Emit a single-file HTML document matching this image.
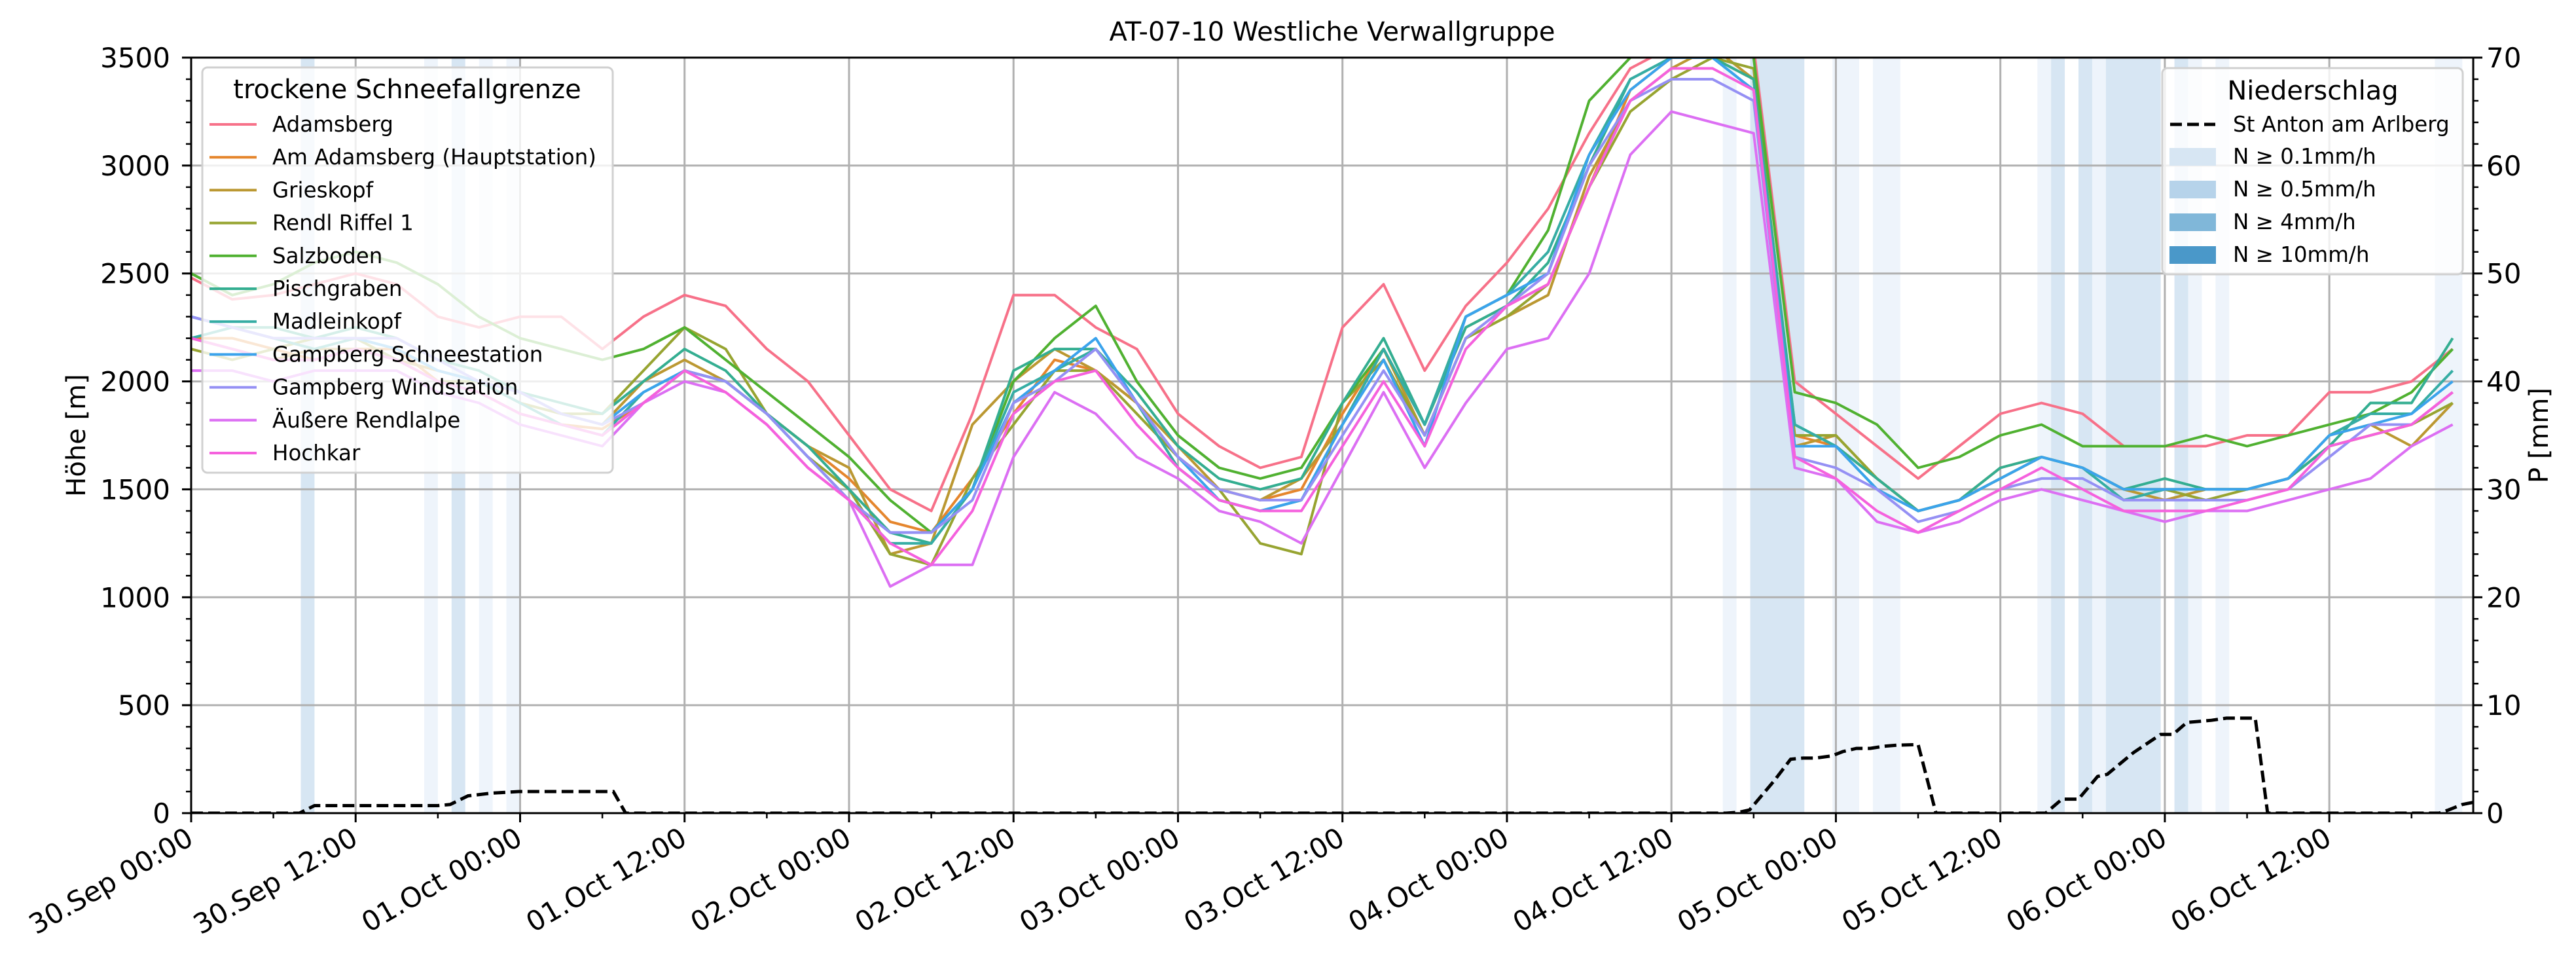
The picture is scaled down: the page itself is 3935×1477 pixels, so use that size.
<!DOCTYPE html>
<html><head><meta charset="utf-8">
<style>
html,body{margin:0;padding:0;background:#fff;}
svg{display:block;font-family:"DejaVu Sans","Liberation Sans",sans-serif;}
</style></head>
<body>
<svg id="chart" width="3935" height="1477" viewBox="0 0 3935 1477" xmlns="http://www.w3.org/2000/svg">
<defs><clipPath id="plotclip"><rect x="292" y="88" width="3486" height="1154"/></clipPath></defs>
<g id="bands" clip-path="url(#plotclip)"></g>
<g id="grid"></g>
<g id="lines" clip-path="url(#plotclip)"></g>
<g id="precip" clip-path="url(#plotclip)"></g>
<g id="axes"></g>
<text x="2035" y="62" font-size="40" text-anchor="middle">AT-07-10 Westliche Verwallgruppe</text>
<text transform="translate(130,665) rotate(-90)" font-size="40" text-anchor="middle">Höhe [m]</text>
<text transform="translate(3892,665) rotate(-90)" font-size="40" text-anchor="middle">P [mm]</text>
<g id="legend1">
<rect x="309" y="103" width="627" height="619" rx="8" fill="rgba(255,255,255,0.8)" stroke="#d0d0d0" stroke-width="3"/>
<text x="622" y="150" font-size="40" text-anchor="middle">trockene Schneefallgrenze</text>
</g>
<g id="legend2">
<rect x="3303" y="104" width="459" height="315" rx="8" fill="rgba(255,255,255,0.8)" stroke="#d0d0d0" stroke-width="3"/>
<text x="3533" y="152" font-size="40" text-anchor="middle">Niederschlag</text>
</g>
</svg>
<script>
const names = ["Adamsberg","Am Adamsberg (Hauptstation)","Grieskopf","Rendl Riffel 1","Salzboden","Pischgraben","Madleinkopf","Gampberg Schneestation","Gampberg Windstation","Äußere Rendlalpe","Hochkar"];
const colors = ["#f77189","#e5862d","#bb9832","#97a431","#50b131","#34ae91","#36ada4","#3ba3ec","#9590f4","#dc6ff3","#f561dd"];
const stepHours = 3;
const sAdamsberg = [2480,2380,2400,2450,2500,2450,2300,2250,2300,2300, 2150,2300,2400,2350,2150,2000,1750,1500,1400,1850, 2400,2400,2250,2150,1850,1700,1600,1650,2250,2450, 2050,2350,2550,2800,3150,3450,3550,3550,3550,2000, 1850,1700,1550,1700,1850,1900,1850,1700,1700,1700, 1750,1750,1950,1950,2000,2150];
const sAmAdamsberg = [2200,2200,2150,2100,2150,2150,2000,1950,1850,1800, 1780,1900,2050,2000,1850,1700,1550,1350,1300,1550, 1850,2100,2050,1900,1650,1500,1450,1500,1850,2150, 1800,2250,2350,2450,2900,3350,3500,3500,3400,1750, 1700,1550,1400,1450,1600,1650,1600,1500,1500,1500, 1500,1550,1700,1750,1800,1950];
const sGrieskopf = [2200,2150,2100,2150,2150,2100,2050,2000,1900,1850, 1800,2000,2100,2000,1850,1700,1600,1200,1250,1800, 2000,2150,2050,1900,1700,1500,1450,1550,1800,2150, 1750,2200,2300,2400,2950,3300,3450,3550,3400,1700, 1750,1550,1400,1450,1550,1650,1600,1500,1450,1500, 1500,1550,1750,1800,1700,1900];
const sRendl = [2150,2100,2150,2200,2200,2100,2000,2000,1900,1850, 1850,2050,2250,2150,1850,1650,1500,1200,1150,1550, 1800,2050,2050,1850,1650,1500,1250,1200,1900,2100, 1750,2200,2300,2450,2900,3250,3400,3500,3450,1750, 1750,1550,1400,1450,1550,1650,1600,1500,1500,1450, 1500,1550,1700,1750,1800,1900];
const sSalzboden = [2500,2400,2450,2550,2600,2550,2450,2300,2200,2150, 2100,2150,2250,2100,1950,1800,1650,1450,1300,1500, 2000,2200,2350,2000,1750,1600,1550,1600,1900,2150, 1800,2300,2400,2700,3300,3500,3550,3550,3500,1950, 1900,1800,1600,1650,1750,1800,1700,1700,1700,1750, 1700,1750,1800,1850,1950,2150];
const sPischgraben = [2300,2250,2250,2200,2250,2200,2100,2050,1950,1900, 1850,2000,2150,2050,1850,1700,1500,1300,1250,1500, 2050,2150,2150,1950,1700,1550,1500,1550,1900,2200, 1800,2250,2350,2550,3000,3400,3500,3500,3400,1800, 1700,1550,1400,1450,1600,1650,1600,1500,1550,1500, 1500,1550,1700,1900,1900,2200];
const sMadleinkopf = [2200,2250,2200,2150,2200,2150,2050,2000,1900,1800, 1750,1950,2050,2000,1850,1650,1450,1250,1250,1500, 1950,2050,2150,1900,1600,1450,1400,1450,1800,2150, 1800,2300,2400,2600,3050,3400,3500,3500,3350,1800, 1700,1500,1400,1450,1550,1650,1600,1450,1500,1500, 1500,1550,1750,1850,1850,2050];
const sSchneestation = [2300,2250,2200,2200,2200,2150,2050,2000,1950,1850, 1800,1950,2050,2000,1850,1650,1450,1300,1300,1500, 1900,2050,2200,1900,1650,1450,1400,1450,1800,2100, 1700,2300,2400,2500,3050,3350,3500,3500,3350,1700, 1700,1500,1400,1450,1550,1650,1600,1500,1500,1500, 1500,1550,1750,1800,1850,2000];
const sWindstation = [2300,2250,2200,2200,2200,2200,2100,2000,1950,1850, 1800,1900,2050,2000,1850,1650,1450,1300,1300,1450, 1900,2000,2150,1900,1650,1500,1450,1450,1750,2050, 1750,2200,2350,2500,3000,3300,3400,3400,3300,1650, 1600,1500,1350,1400,1500,1550,1550,1450,1450,1450, 1450,1500,1650,1800,1800,1950];
const sRendlalpe = [2050,2050,2000,2050,2050,2050,1950,1900,1800,1750, 1700,1900,2000,1950,1800,1600,1450,1050,1150,1150, 1650,1950,1850,1650,1550,1400,1350,1250,1600,1950, 1600,1900,2150,2200,2500,3050,3250,3200,3150,1600, 1550,1350,1300,1350,1450,1500,1450,1400,1350,1400, 1400,1450,1500,1550,1700,1800];
const sHochkar = [2200,2150,2100,2100,2150,2100,2000,1950,1850,1800, 1750,1900,2050,1950,1800,1600,1450,1250,1150,1400, 1850,2000,2050,1800,1600,1450,1400,1400,1700,2000, 1700,2150,2350,2450,2900,3300,3450,3450,3350,1650, 1550,1400,1300,1400,1500,1600,1500,1400,1400,1400, 1450,1500,1700,1750,1800,1950];
const series = [sAdamsberg,sAmAdamsberg,sGrieskopf,sRendl,sSalzboden,sPischgraben,sMadleinkopf,sSchneestation,sWindstation,sRendlalpe,sHochkar];

const precipHours = [0,7.9,9.0,18.0,18.9,20.2,21.9,23.9,30.8,31.7, 112,113,113.7,114.5,115.5,116.7,117.6,118.5,119.7,120.5,121.5,122.5,123.5,124.5,126,127.3, 135.3,136.5,137,137.7,139.1,139.8,141.7,143.7,144.6,145.6,147.4,148.5,150.6,151.5, 164,164.7,165.7,166.5];
const precipValues = [0,0,0.7,0.7,0.8,1.6,1.85,2.0,2.0,0, 0,0.1,0.3,1.5,3.0,5.0,5.1,5.1,5.3,5.7,6.0,6.0,6.2,6.3,6.35,0, 0,1.3,1.3,1.3,3.4,3.6,5.6,7.3,7.3,8.4,8.6,8.8,8.8,0, 0,0.3,0.8,1.0];

const bandStart = [8.0,17.0,19.0,21.0,23.0,111.75,113.75,119.75,122.7,134.7,135.7,137.7,138.7,139.7,144.7,145.7,147.7,163.7];
const bandEnd   = [9.0,18.0,20.0,22.0,24.0,112.75,117.7,121.7,124.7,135.7,136.7,138.7,139.7,143.7,145.7,146.7,148.7,165.7];
const bandLevel = [1,0,1,0,0,0,1,0,0,0,1,1,0,1,1,0,0,0];
const bandColors = ["#eef4fb","#d7e6f3"];

const yTicks = [0,500,1000,1500,2000,2500,3000,3500];
const y2Ticks = [0,10,20,30,40,50,60,70];
const xTickLabels = ["30.Sep 00:00","30.Sep 12:00","01.Oct 00:00","01.Oct 12:00","02.Oct 00:00","02.Oct 12:00","03.Oct 00:00","03.Oct 12:00","04.Oct 00:00","04.Oct 12:00","05.Oct 00:00","05.Oct 12:00","06.Oct 00:00","06.Oct 12:00"];
const legendPatchLabels = ["N ≥ 0.1mm/h","N ≥ 0.5mm/h","N ≥ 4mm/h","N ≥ 10mm/h"];
const legendPatchColors = ["#d7e6f3","#b6d3ea","#80b7d9","#4a98c9"];

const X0=292, X1=3778, Y0=1242, Y1=88, HMAX=166.5;
function xs(h){return X0+(X1-X0)*h/HMAX;}
function ys(m){return Y0-(Y0-Y1)*m/3500;}
function yp(mm){return Y0-(Y0-Y1)*mm/70;}
const NS="http://www.w3.org/2000/svg";
function mk(tag,attrs,parent){const e=document.createElementNS(NS,tag);for(const k in attrs)e.setAttribute(k,attrs[k]);parent.appendChild(e);return e;}

const gB=document.getElementById('bands');
for(let i=0;i<bandStart.length;i++){
  const r=mk('rect',{x:xs(bandStart[i]),y:Y1,width:xs(bandEnd[i])-xs(bandStart[i]),height:Y0-Y1,fill:bandColors[bandLevel[i]]},gB);
  
  
}
const gG=document.getElementById('grid');
for(let i=0;i<xTickLabels.length;i++){
  const l=mk('line',{x1:xs(i*12),x2:xs(i*12),y1:Y1,y2:Y0,stroke:'#b0b0b0','stroke-width':3},gG);
  
  
}
for(const v of yTicks){
  const l=mk('line',{x1:X0,x2:X1,y1:ys(v),y2:ys(v),stroke:'#b0b0b0','stroke-width':3},gG);
  
  
}
const gL=document.getElementById('lines');
for(let s=0;s<series.length;s++){
  const pts=series[s].map((v,i)=>xs(i*stepHours).toFixed(1)+','+ys(v).toFixed(1)).join(' ');
  const p=mk('polyline',{points:pts,fill:'none',stroke:colors[s],'stroke-width':4,'stroke-linejoin':'round'},gL);
  
  
}
const gP=document.getElementById('precip');
const ppts=precipHours.map((h,i)=>xs(h).toFixed(1)+','+yp(precipValues[i]).toFixed(1)).join(' ');
const pl=mk('polyline',{points:ppts,fill:'none',stroke:'#000','stroke-width':5,'stroke-dasharray':'18,8'},gP);



const gA=document.getElementById('axes');
mk('rect',{x:X0,y:Y1,width:X1-X0,height:Y0-Y1,fill:'none',stroke:'#000','stroke-width':3},gA);
for(let m=0;m<=3500;m+=100){
  const major=m%500===0;
  mk('line',{x1:X0,x2:X0-(major?14:8),y1:ys(m),y2:ys(m),stroke:'#000','stroke-width':major?3:2.5},gA);
}
for(const v of yTicks){
  const t=mk('text',{x:260,y:ys(v)+15,'font-size':42,'text-anchor':'end'},gA);
  t.textContent=v;
  
  
}
for(let mm=0;mm<=70;mm+=2){
  const major=mm%10===0;
  mk('line',{x1:X1,x2:X1+(major?14:8),y1:yp(mm),y2:yp(mm),stroke:'#000','stroke-width':major?3:2.5},gA);
}
for(const v of y2Ticks){
  const t=mk('text',{x:3798,y:yp(v)+15,'font-size':42},gA);
  t.textContent=v;
  
  
}
for(let h=0;h<=HMAX;h+=6){
  const major=h%12===0;
  mk('line',{x1:xs(h),x2:xs(h),y1:Y0,y2:Y0+(major?14:8),stroke:'#000','stroke-width':major?3:2.5},gA);
}
for(let i=0;i<xTickLabels.length;i++){
  const x=xs(i*12);
  const t=mk('text',{x:x+6,y:1288,'font-size':42,'text-anchor':'end',transform:'rotate(-30 '+(x+6)+' 1288)'},gA);
  t.textContent=xTickLabels[i];
  
  
}
const gL1=document.getElementById('legend1');
for(let s=0;s<names.length;s++){
  const y=190+s*50.2;
  const l=mk('line',{x1:320,x2:392,y1:y,y2:y,stroke:colors[s],'stroke-width':4},gL1);
  
  
  const t=mk('text',{x:416,y:y+11,'font-size':32.5},gL1);
  t.textContent=names[s];
  
  
}
const gL2=document.getElementById('legend2');
const dl=mk('line',{x1:3315,x2:3384,y1:190,y2:190,stroke:'#000','stroke-width':5,'stroke-dasharray':'18,8'},gL2);


const dt=mk('text',{x:3411,y:201,'font-size':32.5},gL2);
dt.textContent='St Anton am Arlberg';


for(let i=0;i<legendPatchLabels.length;i++){
  const y=226+i*50;
  const r=mk('rect',{x:3314,y:y,width:71,height:27,fill:legendPatchColors[i]},gL2);
  
  
  const t=mk('text',{x:3411,y:y+24,'font-size':32.5},gL2);
  t.textContent=legendPatchLabels[i];
  
  
}
</script>
</body></html>
